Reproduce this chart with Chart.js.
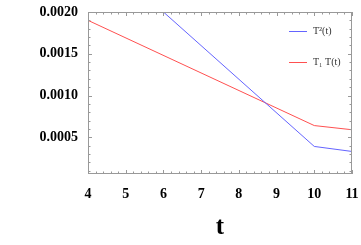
<!DOCTYPE html>
<html>
<head>
<meta charset="utf-8">
<script src="https://cdn.jsdelivr.net/npm/chart.js@4/dist/chart.umd.min.js"></script>
<style>
  html, body { margin: 0; padding: 0; background: #fff; }
  #wrap { width: 361px; height: 245px; }
</style>
</head>
<body>
<div id="wrap"><canvas id="tchart"></canvas></div>
<script>
// values
var sqT = [6, 10, 11];
var sqVal = [0.00200, 0.00039, 0.00033];
var prodT = [4, 10, 11];
var prodVal = [0.00190, 0.00064, 0.00059];
var yTicks = [0.0005, 0.0010, 0.0015, 0.0020];
var seriesNames = ['T\u00B2(t)', 'T\u2081 T(t)'];
var lineColors = ['#6464ff', '#ff5050'];

function pts(xs, ys) {
    return xs.map(function (x, i) { return { x: x, y: ys[i] }; });
}

var serif = "'Liberation Serif', 'Times New Roman', serif";

// frame round the plot with little ticks pointing inwards, plus legend in the corner
var framePlugin = {
    id: 'frame',
    afterDraw: function (chart) {
        var ctx = chart.ctx, a = chart.chartArea;
        var xs = chart.scales.x, ys = chart.scales.y;
        ctx.save();
        ctx.strokeStyle = '#999';
        ctx.lineWidth = 1;
        ctx.strokeRect(Math.round(a.left) + 0.5, Math.round(a.top) + 0.5,
            Math.round(a.right - a.left) - 1, Math.round(a.bottom - a.top) - 1);
        ctx.beginPath();
        for (var i = 0; i <= 35; i++) {
            var v = 4 + i * 0.2;
            var px = Math.round(xs.getPixelForValue(v)) + 0.5;
            var len = (i % 5 === 0) ? 4 : 2.5;
            ctx.moveTo(px, a.bottom); ctx.lineTo(px, a.bottom - len);
            ctx.moveTo(px, a.top); ctx.lineTo(px, a.top + len);
        }
        for (var j = 0; j <= 20; j++) {
            var w = 0.0001 * j;
            if (w < ys.min || w > ys.max) continue;
            var py = Math.round(ys.getPixelForValue(w)) + 0.5;
            var l2 = (j % 5 === 0) ? 4 : 2.5;
            ctx.moveTo(a.left, py); ctx.lineTo(a.left + l2, py);
            ctx.moveTo(a.right, py); ctx.lineTo(a.right - l2, py);
        }
        ctx.stroke();

        // legend
        var rows = [31, 62];
        ctx.font = '10px ' + serif;
        ctx.textBaseline = 'middle';
        seriesNames.forEach(function (name, k) {
            ctx.beginPath();
            ctx.strokeStyle = lineColors[k];
            ctx.moveTo(289, rows[k] + 0.5); ctx.lineTo(307, rows[k] + 0.5);
            ctx.stroke();
            ctx.fillStyle = '#333';
            ctx.fillText(name, 313, rows[k]);
        });
        ctx.restore();
    }
};

const dt = {
    datasets: [
        {
            label: seriesNames[0],
            data: pts(sqT, sqVal),
            borderColor: lineColors[0],
            borderWidth: 1,
            showLine: true,
            pointRadius: 0
        },
        {
            label: seriesNames[1],
            data: pts(prodT, prodVal),
            borderColor: lineColors[1],
            borderWidth: 1,
            showLine: true,
            pointRadius: 0
        }
    ]
};

const config_tchart = {
    type: 'scatter',
    data: dt,
    options: {
        responsive: true,
        maintainAspectRatio: false,
        animation: false,
        layout: { padding: { top: 12, right: 9, left: 0, bottom: 0 } },
        plugins: { legend: { display: false }, tooltip: { enabled: false } },
        scales: {
            x: {
                type: 'linear',
                min: 4,
                max: 11,
                afterFit: function (s) {
                    s.height = 71;
                    s.paddingLeft = 0; s.paddingRight = 0;
                },
                grid: { drawOnChartArea: false, drawTicks: false },
                border: { display: false },
                ticks: {
                    stepSize: 1,
                    padding: 12,
                    color: '#000',
                    font: { family: serif, size: 14, weight: 'bold' }
                },
                title: {
                    display: true,
                    text: 't',
                    color: '#000',
                    padding: { top: 0, bottom: 2 },
                    font: { family: serif, size: 25, weight: 'bold' }
                }
            },
            y: {
                type: 'linear',
                min: 0.00006,
                max: 0.0020,
                afterFit: function (s) {
                    s.width = 88;
                    s.paddingTop = 0; s.paddingBottom = 0;
                },
                afterBuildTicks: function (s) {
                    s.ticks = yTicks.map(function (v) { return { value: v }; });
                },
                grid: { drawOnChartArea: false, drawTicks: false },
                border: { display: false },
                ticks: {
                    padding: 10,
                    color: '#000',
                    font: { family: serif, size: 14, weight: 'bold' },
                    callback: function (v) { return v.toFixed(4); }
                }
            }
        }
    },
    plugins: [framePlugin]
};

const tchart = new Chart(document.getElementById('tchart'), config_tchart);
</script>
</body>
</html>
